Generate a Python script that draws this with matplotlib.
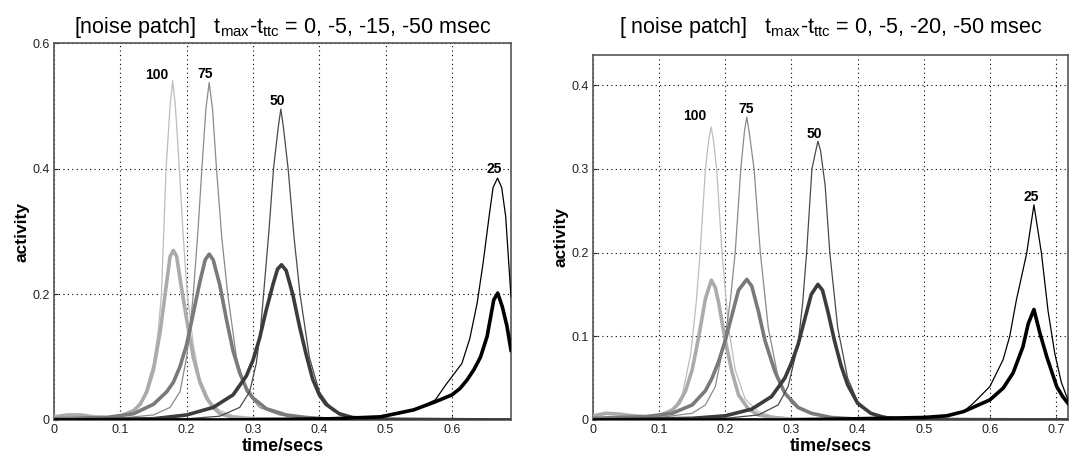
import matplotlib
matplotlib.use("Agg")
import matplotlib.pyplot as plt

plt.rcParams["font.family"] = ["Liberation Sans", "DejaVu Sans"]
plt.rcParams["mathtext.fontset"] = "custom"
plt.rcParams["mathtext.rm"] = "Liberation Sans"

# ---- left panel: t_max - t_ttc = 0, -5, -15, -50 msec ----
L_thin_100_t = [0, 0.05, 0.08, 0.10, 0.12, 0.135, 0.15, 0.157, 0.162, 0.169, 0.175, 0.179, 0.183, 0.189, 0.195, 0.201, 0.21, 0.22, 0.235, 0.25, 0.27, 0.30, 0.35, 0.40, 0.689]
L_thin_100_y = [0.003, 0.004, 0.004, 0.006, 0.015, 0.035, 0.09, 0.14, 0.20, 0.40, 0.50, 0.54, 0.50, 0.40, 0.29, 0.20, 0.12, 0.065, 0.03, 0.015, 0.007, 0.004, 0.002, 0.001, 0.0]
L_thick_100_t = [0, 0.02, 0.04, 0.06, 0.08, 0.10, 0.12, 0.13, 0.14, 0.15, 0.16, 0.17, 0.175, 0.18, 0.185, 0.19, 0.20, 0.21, 0.22, 0.23, 0.24, 0.25, 0.27, 0.30, 0.689]
L_thick_100_y = [0.005, 0.008, 0.008, 0.005, 0.004, 0.006, 0.015, 0.025, 0.045, 0.08, 0.14, 0.22, 0.26, 0.27, 0.26, 0.225, 0.16, 0.10, 0.06, 0.035, 0.02, 0.01, 0.004, 0.001, 0]
L_thin_75_t = [0, 0.10, 0.15, 0.175, 0.19, 0.20, 0.205, 0.21, 0.217, 0.223, 0.229, 0.234, 0.239, 0.245, 0.253, 0.262, 0.275, 0.29, 0.31, 0.34, 0.38, 0.689]
L_thin_75_y = [0.002, 0.003, 0.008, 0.02, 0.045, 0.10, 0.145, 0.20, 0.30, 0.40, 0.495, 0.537, 0.495, 0.40, 0.29, 0.20, 0.10, 0.045, 0.02, 0.008, 0.003, 0]
L_thick_75_t = [0, 0.08, 0.12, 0.15, 0.17, 0.18, 0.19, 0.20, 0.21, 0.22, 0.228, 0.234, 0.24, 0.25, 0.26, 0.27, 0.28, 0.29, 0.30, 0.32, 0.35, 0.38, 0.42, 0.689]
L_thick_75_y = [0.002, 0.004, 0.01, 0.025, 0.045, 0.06, 0.085, 0.12, 0.17, 0.22, 0.255, 0.264, 0.255, 0.215, 0.16, 0.11, 0.075, 0.05, 0.035, 0.018, 0.008, 0.004, 0.001, 0]
L_thin_50_t = [0, 0.2, 0.25, 0.28, 0.295, 0.305, 0.311, 0.316, 0.324, 0.331, 0.338, 0.342, 0.346, 0.353, 0.362, 0.371, 0.385, 0.40, 0.42, 0.45, 0.5, 0.689]
L_thin_50_y = [0, 0.002, 0.006, 0.02, 0.045, 0.09, 0.14, 0.20, 0.30, 0.40, 0.465, 0.495, 0.465, 0.40, 0.29, 0.20, 0.10, 0.045, 0.015, 0.004, 0.001, 0]
L_thick_50_t = [0, 0.15, 0.2, 0.24, 0.27, 0.29, 0.30, 0.31, 0.32, 0.33, 0.337, 0.343, 0.35, 0.36, 0.37, 0.38, 0.39, 0.40, 0.41, 0.43, 0.45, 0.5, 0.689]
L_thick_50_y = [0, 0.002, 0.008, 0.02, 0.04, 0.07, 0.095, 0.13, 0.175, 0.215, 0.24, 0.247, 0.238, 0.20, 0.15, 0.105, 0.065, 0.04, 0.025, 0.01, 0.004, 0.001, 0]
L_thin_25_t = [0, 0.3, 0.4, 0.45, 0.49, 0.52, 0.545, 0.575, 0.590, 0.600, 0.615, 0.627, 0.638, 0.647, 0.656, 0.662, 0.6687, 0.675, 0.681, 0.689]
L_thin_25_y = [0, 0.001, 0.002, 0.003, 0.005, 0.01, 0.017, 0.032, 0.055, 0.069, 0.09, 0.13, 0.186, 0.25, 0.324, 0.37, 0.385, 0.37, 0.324, 0.196]
L_thick_25_t = [0, 0.25, 0.35, 0.42, 0.492, 0.542, 0.575, 0.600, 0.612, 0.623, 0.633, 0.643, 0.653, 0.663, 0.669, 0.676, 0.683, 0.689]
L_thick_25_y = [0, 0.0, 0.001, 0.002, 0.005, 0.016, 0.029, 0.040, 0.050, 0.064, 0.08, 0.10, 0.133, 0.191, 0.202, 0.18, 0.149, 0.111]

# ---- right panel: t_max - t_ttc = 0, -5, -20, -50 msec ----
R_thin_100_t = [0, 0.05, 0.10, 0.12, 0.135, 0.148, 0.156, 0.162, 0.170, 0.175, 0.1787, 0.182, 0.187, 0.195, 0.205, 0.215, 0.23, 0.25, 0.27, 0.30, 0.35, 0.718]
R_thin_100_y = [0.002, 0.003, 0.005, 0.012, 0.03, 0.08, 0.14, 0.20, 0.30, 0.335, 0.350, 0.335, 0.30, 0.20, 0.11, 0.06, 0.025, 0.01, 0.005, 0.002, 0.001, 0]
R_thick_100_t = [0, 0.02, 0.04, 0.06, 0.08, 0.10, 0.12, 0.13, 0.14, 0.15, 0.16, 0.17, 0.179, 0.185, 0.19, 0.20, 0.21, 0.22, 0.235, 0.25, 0.27, 0.30, 0.718]
R_thick_100_y = [0.005, 0.008, 0.007, 0.005, 0.004, 0.005, 0.012, 0.02, 0.035, 0.06, 0.10, 0.145, 0.167, 0.158, 0.14, 0.095, 0.058, 0.03, 0.013, 0.006, 0.003, 0.001, 0]
R_thin_75_t = [0, 0.10, 0.15, 0.17, 0.185, 0.20, 0.208, 0.215, 0.2235, 0.229, 0.2325, 0.236, 0.2435, 0.253, 0.265, 0.28, 0.30, 0.33, 0.37, 0.718]
R_thin_75_y = [0.002, 0.003, 0.008, 0.018, 0.04, 0.10, 0.145, 0.20, 0.30, 0.345, 0.362, 0.345, 0.30, 0.20, 0.11, 0.05, 0.02, 0.007, 0.002, 0]
R_thick_75_t = [0, 0.08, 0.12, 0.15, 0.17, 0.18, 0.19, 0.20, 0.21, 0.22, 0.2325, 0.24, 0.25, 0.26, 0.275, 0.29, 0.31, 0.33, 0.36, 0.40, 0.718]
R_thick_75_y = [0.002, 0.004, 0.008, 0.018, 0.035, 0.05, 0.07, 0.095, 0.125, 0.155, 0.168, 0.16, 0.13, 0.095, 0.058, 0.032, 0.015, 0.008, 0.003, 0.001, 0]
R_thin_50_t = [0, 0.2, 0.25, 0.28, 0.295, 0.31, 0.317, 0.323, 0.331, 0.337, 0.34, 0.344, 0.351, 0.358, 0.37, 0.385, 0.40, 0.42, 0.45, 0.5, 0.718]
R_thin_50_y = [0, 0.002, 0.006, 0.018, 0.04, 0.09, 0.14, 0.20, 0.30, 0.322, 0.333, 0.322, 0.28, 0.20, 0.11, 0.05, 0.022, 0.008, 0.003, 0.001, 0]
R_thick_50_t = [0, 0.15, 0.2, 0.24, 0.27, 0.29, 0.30, 0.31, 0.32, 0.33, 0.34, 0.347, 0.355, 0.365, 0.375, 0.385, 0.40, 0.42, 0.44, 0.47, 0.5, 0.718]
R_thick_50_y = [0, 0.002, 0.005, 0.013, 0.028, 0.05, 0.068, 0.09, 0.12, 0.15, 0.162, 0.155, 0.13, 0.095, 0.065, 0.042, 0.02, 0.008, 0.003, 0.001, 0, 0]
R_thin_25_t = [0, 0.4, 0.45, 0.5, 0.535, 0.56, 0.575, 0.600, 0.620, 0.630, 0.640, 0.6556, 0.6666, 0.678, 0.688, 0.698, 0.708, 0.718]
R_thin_25_y = [0, 0.001, 0.002, 0.003, 0.005, 0.01, 0.020, 0.040, 0.072, 0.10, 0.143, 0.199, 0.257, 0.199, 0.13, 0.080, 0.045, 0.024]
R_thick_25_t = [0, 0.3, 0.434, 0.5, 0.535, 0.560, 0.600, 0.620, 0.635, 0.650, 0.658, 0.6666, 0.6757, 0.686, 0.701, 0.710, 0.718]
R_thick_25_y = [0, 0.0, 0.002, 0.003, 0.005, 0.010, 0.024, 0.038, 0.056, 0.0875, 0.115, 0.132, 0.1035, 0.0756, 0.04, 0.028, 0.02]

speeds = ["100", "75", "50", "25"]
L_label_t = [0.155, 0.228, 0.336, 0.664]
L_label_y = [0.549, 0.551, 0.508, 0.400]
R_label_t = [0.1545, 0.231, 0.335, 0.663]
R_label_y = [0.363, 0.372, 0.342, 0.266]

thin_col = {"100": "#bdbdbd", "75": "#8a8a8a", "50": "#4a4a4a", "25": "#000000"}
thick_col = {"100": "#ababab", "75": "#7a7a7a", "50": "#3c3c3c", "25": "#000000"}

fig = plt.figure(figsize=(10.69, 4.65), dpi=100)
axL = fig.add_axes([0.0505, 0.0968, 0.4275, 0.8107])
axR = fig.add_axes([0.5547, 0.0968, 0.4443, 0.7849])

L_curves = {"100": (L_thin_100_t, L_thin_100_y, L_thick_100_t, L_thick_100_y),
            "75": (L_thin_75_t, L_thin_75_y, L_thick_75_t, L_thick_75_y),
            "50": (L_thin_50_t, L_thin_50_y, L_thick_50_t, L_thick_50_y),
            "25": (L_thin_25_t, L_thin_25_y, L_thick_25_t, L_thick_25_y)}
R_curves = {"100": (R_thin_100_t, R_thin_100_y, R_thick_100_t, R_thick_100_y),
            "75": (R_thin_75_t, R_thin_75_y, R_thick_75_t, R_thick_75_y),
            "50": (R_thin_50_t, R_thin_50_y, R_thick_50_t, R_thick_50_y),
            "25": (R_thin_25_t, R_thin_25_y, R_thick_25_t, R_thick_25_y)}

def panel(ax, curves, lab_t, lab_y, title, xmax, ymax, yticks, xticks):
    for s in speeds:
        tt, ty, kt, ky = curves[s]
        ax.plot(tt, ty, color=thin_col[s], lw=0.9, zorder=3)
        ax.plot(kt, ky, color=thick_col[s], lw=2.6, zorder=3, solid_joinstyle="round")
    for s, x, y in zip(speeds, lab_t, lab_y):
        ax.text(x, y, s, ha="center", va="center", fontsize=10, fontweight="bold", zorder=4)
    ax.set_xlim(0, xmax)
    ax.set_ylim(0, ymax)
    ax.set_xticks(xticks)
    ax.set_xticklabels(["0" if v == 0 else "%g" % v for v in xticks])
    ax.set_yticks(yticks)
    ax.set_yticklabels(["0" if v == 0 else "%g" % v for v in yticks])
    ax.grid(True, color="black", linestyle=(0, (1, 3)), lw=0.8)
    ax.tick_params(direction="in", length=3, labelsize=9, colors="#222222", pad=3)
    for sp in ax.spines.values():
        sp.set_color("#555555"); sp.set_linewidth(1.2)
    ax.set_xlabel("time/secs", fontsize=13, fontweight="bold", labelpad=1)
    ax.set_ylabel("activity", fontsize=12.5, fontweight="bold", labelpad=2)
    pos = ax.get_position()
    fig.text((pos.x0 + pos.x1) / 2, 0.929, title, ha="center", va="baseline", fontsize=15.5)

panel(axL, L_curves, L_label_t, L_label_y,
      r"[noise patch]   t$_{\mathrm{max}}$-t$_{\mathrm{ttc}}$ = 0, -5, -15, -50 msec",
      0.689, 0.6, [0, 0.2, 0.4, 0.6], [0, 0.1, 0.2, 0.3, 0.4, 0.5, 0.6])
panel(axR, R_curves, R_label_t, R_label_y,
      r"[ noise patch]   t$_{\mathrm{max}}$-t$_{\mathrm{ttc}}$ = 0, -5, -20, -50 msec",
      0.718, 0.436, [0, 0.1, 0.2, 0.3, 0.4], [0, 0.1, 0.2, 0.3, 0.4, 0.5, 0.6, 0.7])

fig.savefig("out.png", dpi=100)
